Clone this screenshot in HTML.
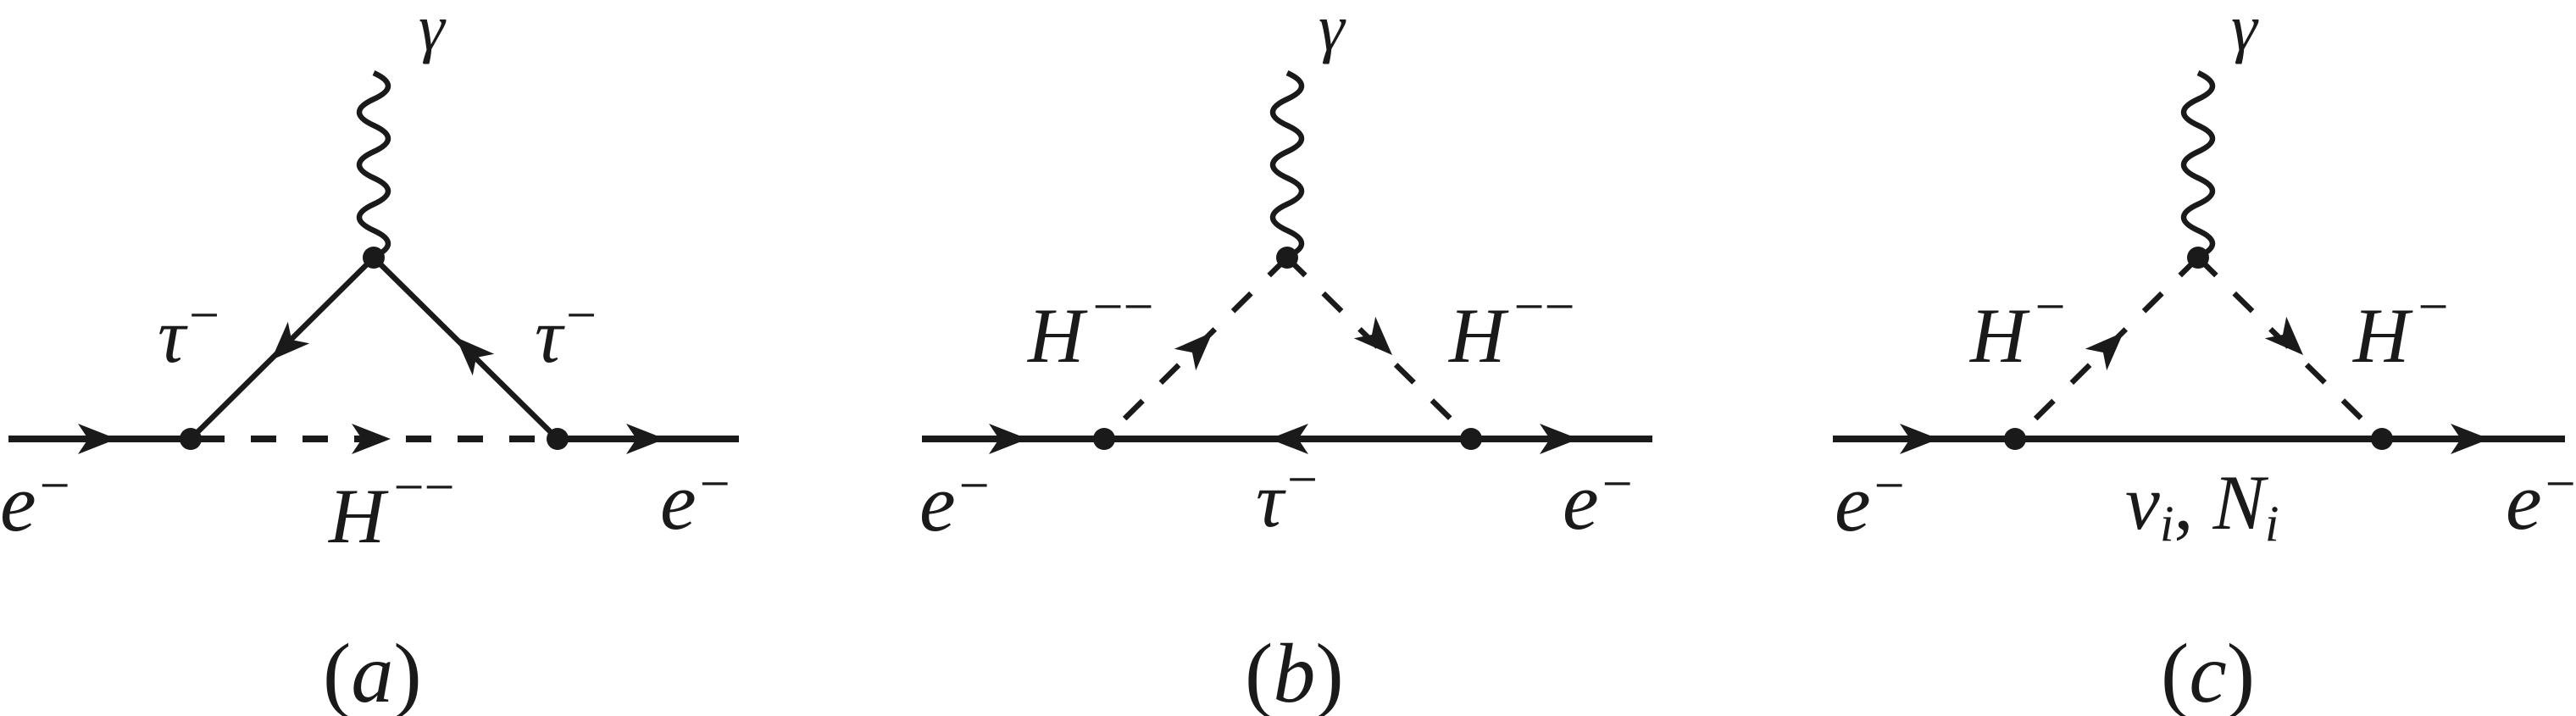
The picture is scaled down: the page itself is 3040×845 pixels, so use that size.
<!DOCTYPE html>
<html><head><meta charset="utf-8"><style>
html,body{margin:0;padding:0;background:#fff;}
svg{display:block;}
svg text, svg tspan{font-family:"Liberation Serif","DejaVu Serif",serif;fill:#1a1a1a;}
</style></head><body>
<svg width="3040" height="845" viewBox="0 0 3040 845" xmlns="http://www.w3.org/2000/svg" font-family="Liberation Serif, DejaVu Serif, serif">
<defs>
<path id="ah" d="M0,0 L-46,-18 L-34,0 L-46,18 Z" fill="#1a1a1a"/>
<path id="ph" d="M441,86 q34,15.5 0,31 t0,31 t0,31 t0,31 t0,31 t0,31 t0,31" fill="none" stroke="#1a1a1a" stroke-width="6.5"/>
</defs>

<!-- (a) -->
<g>
<line x1="10" y1="518" x2="225" y2="518" stroke="#1a1a1a" stroke-width="8"/>
<line x1="225" y1="518" x2="658" y2="518" stroke="#1a1a1a" stroke-width="8" stroke-dasharray="30 31" stroke-dashoffset="-10"/>
<line x1="658" y1="518" x2="872" y2="518" stroke="#1a1a1a" stroke-width="8"/>
<line x1="441" y1="304" x2="225" y2="518" stroke="#1a1a1a" stroke-width="6.5"/>
<line x1="441" y1="304" x2="658" y2="518" stroke="#1a1a1a" stroke-width="6.5"/>
<use href="#ph"/>
<use href="#ah" transform="translate(138,518)"/>
<use href="#ah" transform="translate(461,518)"/>
<use href="#ah" transform="translate(785,518)"/>
<use href="#ah" transform="translate(320,425) rotate(135)"/>
<use href="#ah" transform="translate(538,398) rotate(-135)"/>
<circle cx="225" cy="518" r="13" fill="#1a1a1a"/>
<circle cx="658" cy="518" r="13" fill="#1a1a1a"/>
<circle cx="441" cy="304" r="13" fill="#1a1a1a"/>
<text x="494" y="59" font-size="78" font-style="italic">γ</text>
<text x="186" y="427" font-size="92" font-style="italic">τ<tspan dx="4" dy="-34" font-size="64" font-style="normal">−</tspan></text>
<text x="631" y="427" font-size="92" font-style="italic">τ<tspan dx="4" dy="-34" font-size="64" font-style="normal">−</tspan></text>
<text x="0" y="626" font-size="96" font-style="italic">e<tspan dx="4" dy="-32" font-size="64" font-style="normal">−</tspan></text>
<text x="779" y="624" font-size="96" font-style="italic">e<tspan dx="4" dy="-32" font-size="64" font-style="normal">−</tspan></text>
<text x="388" y="640" font-size="92" font-style="italic">H<tspan dx="10" dy="-44" font-size="64" font-style="normal">−−</tspan></text>
<text x="381" y="828" font-size="100">(<tspan font-style="italic">a</tspan>)</text>
</g>

<!-- (b) -->
<g transform="translate(1078,0)">
<line x1="10" y1="518" x2="872" y2="518" stroke="#1a1a1a" stroke-width="8"/>
<line x1="441" y1="304" x2="225" y2="518" stroke="#1a1a1a" stroke-width="6.5" stroke-dasharray="30 30"/>
<line x1="441" y1="304" x2="658" y2="518" stroke="#1a1a1a" stroke-width="6.5" stroke-dasharray="30 30"/>
<use href="#ph"/>
<use href="#ah" transform="translate(135,518)"/>
<use href="#ah" transform="translate(420,518) rotate(180)"/>
<use href="#ah" transform="translate(785,518)"/>
<use href="#ah" transform="translate(353,392) rotate(-45)"/>
<use href="#ah" transform="translate(565,419) rotate(45)"/>
<circle cx="225" cy="518" r="13" fill="#1a1a1a"/>
<circle cx="658" cy="518" r="13" fill="#1a1a1a"/>
<circle cx="441" cy="304" r="13" fill="#1a1a1a"/>
<text x="478" y="59" font-size="78" font-style="italic">γ</text>
<text x="135" y="427" font-size="92" font-style="italic">H<tspan dx="10" dy="-44" font-size="64" font-style="normal">−−</tspan></text>
<text x="632" y="427" font-size="92" font-style="italic">H<tspan dx="10" dy="-44" font-size="64" font-style="normal">−−</tspan></text>
<text x="7" y="626" font-size="96" font-style="italic">e<tspan dx="4" dy="-32" font-size="64" font-style="normal">−</tspan></text>
<text x="766" y="624" font-size="96" font-style="italic">e<tspan dx="4" dy="-32" font-size="64" font-style="normal">−</tspan></text>
<text x="404" y="621" font-size="92" font-style="italic">τ<tspan dx="4" dy="-34" font-size="64" font-style="normal">−</tspan></text>
<text x="391" y="828" font-size="100">(<tspan font-style="italic">b</tspan>)</text>
</g>

<!-- (c) -->
<g transform="translate(2153,0)">
<line x1="10" y1="518" x2="874" y2="518" stroke="#1a1a1a" stroke-width="8"/>
<line x1="441" y1="304" x2="225" y2="518" stroke="#1a1a1a" stroke-width="6.5" stroke-dasharray="30 30"/>
<line x1="441" y1="304" x2="658" y2="518" stroke="#1a1a1a" stroke-width="6.5" stroke-dasharray="30 30"/>
<use href="#ph"/>
<use href="#ah" transform="translate(135,518)"/>
<use href="#ah" transform="translate(785,518)"/>
<use href="#ah" transform="translate(353,392) rotate(-45)"/>
<use href="#ah" transform="translate(565,419) rotate(45)"/>
<circle cx="225" cy="518" r="13" fill="#1a1a1a"/>
<circle cx="658" cy="518" r="13" fill="#1a1a1a"/>
<circle cx="441" cy="304" r="13" fill="#1a1a1a"/>
<text x="480" y="59" font-size="78" font-style="italic">γ</text>
<text x="172" y="427" font-size="92" font-style="italic">H<tspan dx="10" dy="-44" font-size="64" font-style="normal">−</tspan></text>
<text x="624" y="427" font-size="92" font-style="italic">H<tspan dx="10" dy="-44" font-size="64" font-style="normal">−</tspan></text>
<text x="12" y="626" font-size="96" font-style="italic">e<tspan dx="4" dy="-32" font-size="64" font-style="normal">−</tspan></text>
<text x="804" y="624" font-size="96" font-style="italic">e<tspan dx="4" dy="-32" font-size="64" font-style="normal">−</tspan></text>
<text x="355" y="624" font-size="92" font-style="italic">ν<tspan dy="14" font-size="60">i</tspan><tspan dy="-14" font-style="normal">, </tspan>N<tspan dy="14" font-size="60">i</tspan></text>
<text x="397" y="828" font-size="100">(<tspan font-style="italic">c</tspan>)</text>
</g>
</svg>
</body></html>
